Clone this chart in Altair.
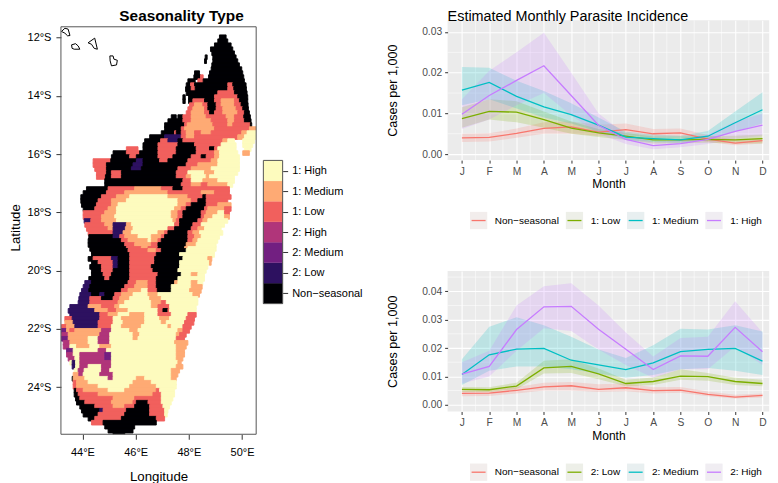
import altair as alt
import pandas as pd

FONT = "Liberation Sans"
MONTHS = ["J", "F", "M", "A", "M", "J", "J", "A", "S", "O", "N", "D"]
COLORS = ["#F8766D", "#7CAE00", "#00BFC4", "#C77CFF"]

NON = [.0040, .0041, .0051, .0063, .0067, .0054, .0060, .0050, .0052, .0037, .0027, .0033]
NON_LO = [.0030, .0031, .0040, .0050, .0050, .0045, .0048, .0040, .0042, .0030, .0022, .0026]
NON_HI = [.0050, .0051, .0063, .0078, .0080, .0072, .0075, .0062, .0063, .0047, .0035, .0040]

T_LOW = [.0087, .0105, .0103, .0085, .0064, .0052, .0044, .0035, .0035, .0036, .0035, .0038]
T_LOW_LO = [.0065, .0085, .0078, .0065, .0050, .0042, .0035, .0026, .0027, .0028, .0026, .0026]
T_LOW_HI = [.0115, .0135, .0130, .0105, .0080, .0062, .0052, .0043, .0043, .0044, .0045, .0048]
T_MED = [.0157, .0176, .0142, .0116, .0097, .0071, .0042, .0038, .0035, .0044, .0077, .0109]
T_MED_LO = [.0120, .0135, .0112, .0090, .0075, .0055, .0035, .0030, .0028, .0035, .0055, .0075]
T_MED_HI = [.0214, .0212, .0180, .0155, .0125, .0090, .0055, .0048, .0045, .0057, .0105, .0152]
T_HIGH = [.0098, .0144, .0181, .0217, .0144, .0071, .0036, .0021, .0026, .0036, .0056, .0071]
T_HIGH_LO = [.0062, .0085, .0120, .0150, .0095, .0050, .0025, .0012, .0017, .0025, .0038, .0045]
T_HIGH_HI = [.0135, .0205, .0250, .0298, .0200, .0100, .0048, .0030, .0035, .0048, .0080, .0100]

B_LOW = [.0054, .0053, .0066, .0130, .0135, .0109, .0075, .0082, .0101, .0099, .0082, .0075]
B_LOW_LO = [.0045, .0045, .0055, .0110, .0112, .0090, .0065, .0070, .0088, .0085, .0070, .0065]
B_LOW_HI = [.0063, .0062, .0078, .0155, .0160, .0128, .0088, .0096, .0125, .0112, .0095, .0088]
B_MED = [.0107, .0176, .0196, .0199, .0157, .0141, .0124, .0148, .0187, .0195, .0199, .0154]
B_MED_LO = [.0070, .0120, .0135, .0135, .0125, .0110, .0095, .0105, .0125, .0130, .0120, .0105]
B_MED_HI = [.0160, .0275, .0308, .0280, .0240, .0195, .0165, .0210, .0268, .0265, .0280, .0258]
B_HIGH = [.0108, .0135, .0265, .0345, .0347, .0266, .0196, .0124, .0172, .0171, .0273, .0187]
B_HIGH_LO = [.0075, .0100, .0190, .0270, .0260, .0195, .0140, .0095, .0125, .0125, .0205, .0140]
B_HIGH_HI = [.0150, .0190, .0350, .0418, .0428, .0350, .0255, .0170, .0235, .0240, .0365, .0255]

SEASON_LABELS = ["Non\u2212seasonal", "2: Low", "2: Medium", "2: High", "1: Low", "1: Medium", "1: High"]
SEASON_CODES = ["N", "a", "b", "c", "L", "M", "H"]
SEASON_COLORS = ["#000004", "#2D1160", "#721F81", "#B0357A", "#F1605D", "#FEAA74", "#FDFBBE"]

# Digitised map: each row runs west to east as "start code end code end ..."
# in units of 1/80 degree longitude; "." is sea.
ROWS_NORTH = [
    "655 N 675", "650 N 680", "640 N 690", "628 N 695", "632 N 700",
    "612 N 618 . 635 N 705", "610 N 616 . 635 N 710", "632 N 715", "630 N 722",
    "580 N 595 . 625 N 725", "578 N 598 L 606 . 622 N 728", "560 N 582 . 590 L 606 N 730",
    "555 N 568 L 580 N 680 L 695 N 735", "553 N 570 L 582 N 680 L 698 N 736",
    "555 N 650 L 700 N 738", "545 N 552 . 562 N 640 L 710 N 740",
    "545 N 552 . 562 N 575 L 610 N 640 L 660 M 700 L 715 N 740",
    "565 L 580 M 605 L 620 N 645 L 660 M 700 L 720 N 741",
    "560 L 575 M 610 L 620 N 645 L 665 M 705 L 725 N 742",
    "555 L 570 M 610 L 625 N 640 L 665 M 710 L 730 N 745",
    "510 N 525 . 530 N 545 L 570 M 615 L 675 M 700 L 728 N 748",
    "500 N 545 L 570 M 630 L 680 M 700 L 730 N 750",
    "490 N 550 L 558 M 635 L 680 M 695 L 748 N 752",
    "490 N 540 L 550 M 640 L 745 M 765",
    "480 N 520 L 525 N 540 L 555 M 580 L 600 M 630 L 722 M 738 H 765",
    "445 N 490 a 540 L 555 M 580 L 710 M 730 H 765",
    "430 N 478 L 500 a 530 N 545 L 665 M 680 H 700 . 725 H 760",
    "425 N 470 L 530 N 580 L 660 H 705 . 725 H 755",
    "375 L 410 . 425 N 470 L 525 N 585 L 625 N 640 L 650 H 705 . 730 H 750",
    "335 N 375 L 415 N 470 L 525 N 585 L 640 M 655 H 710 . 725 M 745",
    "330 N 385 L 405 N 470 L 515 N 570 L 600 N 615 L 640 M 655 H 715",
    "275 L 328 N 405 a 425 N 475 L 500 N 560 L 630 M 650 H 715",
    "275 L 315 N 395 a 425 N 555 L 590 M 650 H 715",
    "280 L 315 N 390 a 420 N 530 L 570 M 630 H 715",
    "285 L 315 N 330 L 360 N 525 L 560 H 610 M 640 H 710",
    "285 L 312 N 330 L 360 N 525 L 555 M 570 H 615 M 625 H 700",
    "310 N 545 L 570 H 605 M 650 H 700",
    "310 N 540 L 570 M 600 L 620 M 680 H 695",
    "255 N 320 L 400 M 480 L 515 N 545 L 685",
    "245 N 315 L 370 M 500 L 600 M 640 L 685",
    "238 N 300 L 345 M 385 H 500 M 560 L 605 N 615 L 690",
    "238 N 290 L 330 M 375 H 530 M 570 L 590 N 615 L 680",
    "240 N 285 L 330 M 350 H 530 M 555 L 570 N 615 L 650 M 690",
    "245 N 280 L 320 M 345 H 520 M 540 L 555 N 610 L 620 M 670 L 690",
    "245 L 310 M 345 H 510 M 530 L 545 N 600 L 615 M 650 H 670 L 685",
    "245 L 300 M 340 H 510 M 530 L 545 N 600 L 610 M 635 H 670 M 685",
    "248 a 268 L 300 M 345 H 515 M 525 L 535 N 590 L 605 M 620 H 680",
    "250 L 310 M 335 a 375 M 390 H 520 L 535 N 575 L 600 H 670",
    "255 L 320 M 335 a 372 M 395 H 500 L 520 N 570 L 590 M 610 H 660",
    "260 L 335 a 365 M 390 H 470 M 490 L 500 N 560 L 575 M 595 H 665",
    "262 N 335 a 355 L 370 M 410 H 450 M 480 L 490 N 560 L 580 M 600 H 655",
    "260 N 360 L 380 M 440 H 450 M 470 L 480 N 560 L 575 M 590 H 650",
    "260 N 370 L 400 M 450 L 470 N 555 M 585 H 645",
    "265 N 375 L 420 M 440 L 470 N 550 M 560 H 645",
]
ROWS_SOUTH = [
    "270 N 380 L 440 M 465 L 480 N 555 H 640",
    "270 N 385 L 465 N 535 H 640",
    "260 N 275 L 330 a 350 N 385 L 460 N 545 H 620 M 632",
    "270 N 290 L 335 a 350 N 385 L 460 N 535 H 625 M 630",
    "265 N 300 L 335 a 350 N 385 L 450 N 535 H 620",
    "270 N 300 L 335 N 385 L 455 N 530 H 615",
    "270 N 305 L 330 N 385 L 470 N 540 H 570 M 590 H 610",
    "262 N 310 L 325 N 385 L 465 N 530 H 610",
    "250 a 270 N 380 L 405 M 440 L 465 N 520 M 530 H 570 M 590 H 605",
    "245 a 265 N 370 L 400 M 440 L 465 N 510 H 570 M 603",
    "240 a 262 N 360 L 380 M 420 H 440 L 468 N 510 H 565 M 600",
    "235 a 270 N 295 a 310 N 340 L 360 M 395 H 440 M 470 H 575 M 595",
    "232 a 265 L 300 N 335 L 355 M 385 H 445 M 480 H 590",
    "230 a 265 L 350 M 370 H 450 M 480 L 495 H 590",
    "205 a 260 M 300 L 340 M 355 H 450 M 470 L 505 H 585",
    "200 a 280 M 320 L 345 M 380 H 470 L 485 N 500 L 505 H 585",
    "205 a 295 L 320 M 350 H 385 M 430 H 470 L 510 H 560 L 585",
    "190 L 212 a 295 L 335 H 360 M 430 H 475 M 505 H 555 L 580",
    "190 M 215 a 290 L 335 H 365 M 430 H 480 M 495 H 550 L 578",
    "180 L 195 M 220 a 290 L 330 H 360 M 420 H 500 M 510 H 545 L 570",
    "180 b 195 M 205 L 220 M 300 c 330 H 385 M 410 H 530 M 545 L 565",
    "180 c 200 M 295 c 325 H 395 M 415 H 525 M 535 L 555",
    "180 b 200 M 260 H 290 c 325 H 395 M 410 H 525 L 550",
    "185 c 205 M 260 H 290 c 325 H 520 M 560",
    "185 c 205 H 225 M 265 H 295 M 330 H 525 M 555",
    "195 b 215 H 290 c 315 H 525 M 550",
    "195 c 215 H 235 c 310 b 330 H 525 M 550",
    "200 c 220 H 235 c 310 b 330 H 525 M 545",
    "205 H 212 a 222 H 235 c 330 H 530 M 540",
    "212 a 222 H 235 c 260 H 300 c 330 H 525 M 545",
    "218 H 230 c 248 H 300 c 325 H 510 M 535",
    "215 M 232 c 245 H 295 c 335 H 510 M 530",
    "212 N 215 M 250 H 320 c 335 H 405 M 430 H 510 M 525",
    "215 L 225 M 260 H 395 M 450 H 525",
    "215 L 225 M 290 H 385 M 465 H 525",
    "218 N 225 L 245 M 320 H 370 M 465 L 475 H 520",
    "218 N 230 L 290 M 455 L 480 H 520",
    "222 N 235 L 335 M 400 L 480 H 515",
    "225 N 250 L 330 M 395 L 405 N 440 L 480 H 510",
    "235 N 280 L 335 M 370 L 400 N 445 L 485 H 505",
    "240 N 295 a 305 L 375 N 445 L 490 H 500",
    "245 N 290 L 370 N 445 L 490 H 498",
    "260 N 280 L 360 N 465 L 490",
    "270 L 305 N 465",
    "310 N 400",
    "320 N 395",
    "335 N 370",
]
ISLAND_LON = [
    [43.21, 43.34, 43.46, 43.53, 43.44, 43.34, 43.21],
    [43.59, 43.74, 43.84, 43.90, 43.69, 43.61, 43.59],
    [44.21, 44.46, 44.56, 44.44, 44.34, 44.21],
    [45.03, 45.15, 45.18, 45.31, 45.28, 45.09, 45.04, 45.03],
]
ISLAND_LAT = [
    [-11.79, -11.68, -11.71, -11.93, -11.94, -11.85, -11.79],
    [-12.25, -12.21, -12.29, -12.40, -12.40, -12.37, -12.25],
    [-12.18, -12.02, -12.40, -12.37, -12.23, -12.18],
    [-12.63, -12.63, -12.74, -12.78, -12.94, -12.97, -12.80, -12.63],
]

LON_DOMAIN = [43.19, 50.53]
LAT_DOMAIN = [-25.62, -11.407]
FRAME_LAT = [-25.62, -11.63]


def to_lon(z):
    return 44 + (z - 243) / 80


def to_lat(z):
    return -12 - (z - 110) / 87.5


def parse_rows(rows, z0):
    out = []
    for i, row in enumerate(rows):
        t = row.split()
        for j in range(1, len(t), 2):
            if t[j] == ".":
                continue
            out.append({
                "lon": to_lon(float(t[j - 1])), "lon2": to_lon(float(t[j + 1])),
                "lat": to_lat(z0 + 12 * i), "lat2": to_lat(z0 + 12 * (i + 1) + 2),
                "code": t[j],
            })
    return out


cells = pd.DataFrame(parse_rows(ROWS_NORTH, 102) + parse_rows(ROWS_SOUTH, 744))
code_scale = alt.Scale(domain=SEASON_CODES, range=SEASON_COLORS)
x_map = alt.X("lon:Q", scale=alt.Scale(domain=LON_DOMAIN, nice=False), axis=alt.Axis(
    values=[44, 46, 48, 50], labelExpr="datum.value + '°E'", title="Longitude",
    grid=False, domain=False, labelFontSize=11, titleFontSize=13.3, tickColor="#333333",
    tickSize=5, labelColor="#000000", titleFontWeight="normal", labelPadding=7, titlePadding=12))
y_map = alt.Y("lat:Q", scale=alt.Scale(domain=LAT_DOMAIN, nice=False), axis=alt.Axis(
    values=[-12, -14, -16, -18, -20, -22, -24], labelExpr="abs(datum.value) + '°S'",
    title="Latitude", grid=False, domain=False, labelFontSize=11, titleFontSize=13.3,
    tickColor="#333333", tickSize=5, labelColor="#000000", titleFontWeight="normal",
    labelPadding=5, titlePadding=5))

raster = alt.Chart(cells).mark_rect(strokeWidth=0.9, clip=True).encode(
    x=x_map, x2="lon2:Q", y=y_map, y2="lat2:Q",
    fill=alt.Fill("code:N", scale=code_scale, legend=None),
    stroke=alt.Stroke("code:N", scale=code_scale, legend=None),
)
isl = pd.DataFrame([
    {"lon": a, "lat": b, "island": k, "ord": n}
    for k, (lo, la) in enumerate(zip(ISLAND_LON, ISLAND_LAT))
    for n, (a, b) in enumerate(zip(lo, la))
])
islands = alt.Chart(isl).mark_line(color="#000000", strokeWidth=1, clip=True).encode(
    x=x_map, y=y_map, detail="island:N", order="ord:Q")
frame = alt.Chart(pd.DataFrame({"lon": [LON_DOMAIN[0]], "lon2": [LON_DOMAIN[1]],
                                "lat": [FRAME_LAT[0]], "lat2": [FRAME_LAT[1]]})).mark_rect(
    fillOpacity=0, stroke="#555555", strokeWidth=1).encode(
    x=x_map, x2="lon2:Q", y=y_map, y2="lat2:Q")
map_panel = alt.layer(raster, islands, frame).properties(
    width=195.5, height=414.5,
    view=alt.ViewBackground(stroke=None),
    title=alt.TitleParams("Seasonality Type", fontSize=15.4, fontWeight="bold", font=FONT,
                          anchor="middle", frame="group", offset=-4.2, dx=23, color="#000000"),
)

# colour bar
bar = pd.DataFrame({"i": range(7), "i2": range(1, 8), "code": SEASON_CODES,
                    "x0": [0] * 7, "x1": [1] * 7})
label_js = "[" + ",".join(f"'{s}'" for s in SEASON_LABELS) + "][floor(datum.value)]"
x_bar = alt.X("x0:Q", scale=alt.Scale(domain=[0, 1], nice=False), axis=None)
y_bar = alt.Y("i:Q", scale=alt.Scale(domain=[-6.387, 13.85], nice=False), axis=alt.Axis(
    orient="right", values=[i + 0.5 for i in range(7)], labelExpr=label_js, title=None,
    grid=False, domain=False, tickSize=5, tickColor="#333333", labelFontSize=11,
    labelColor="#000000", labelPadding=4))
bar_rect = alt.Chart(bar).mark_rect(strokeWidth=0.3).encode(
    x=x_bar, x2="x1:Q", y=y_bar, y2="i2:Q",
    fill=alt.Fill("code:N", scale=code_scale, legend=None),
    stroke=alt.Stroke("code:N", scale=code_scale, legend=None))
bar_frame = alt.Chart(pd.DataFrame({"x0": [0], "x1": [1], "i": [0], "i2": [7]})).mark_rect(
    fillOpacity=0, stroke="#555555", strokeWidth=1).encode(
    x=x_bar, x2="x1:Q", y=y_bar, y2="i2:Q")
bar_panel = alt.layer(bar_rect, bar_frame).properties(
    width=19.3, height=414.5, view=alt.ViewBackground(stroke=None))

MONTH_JS = "[" + ",".join(f"'{m}'" for m in MONTHS) + "][datum.value-1]"
MONTH_NUM = list(range(1, 13))
MINOR_X = [m + 0.5 for m in range(1, 12)]
PANEL_W = 322
N0 = "Non\u2212seasonal"
top_names = [N0, "1: Low", "1: Medium", "1: High"]
bot_names = [N0, "2: Low", "2: Medium", "2: High"]
series_scale = alt.Scale(domain=top_names + bot_names[1:],
                         range=COLORS + COLORS[1:])
series_color = alt.Color("series:N", scale=series_scale, legend=None)


def panel(series, ydomain, ymajor, yminor, height, title=None):
    rows = []
    for name, mid, lo, hi in series:
        for m, a, b, c in zip(MONTH_NUM, mid, lo, hi):
            rows.append({"month": m, "series": name, "v": a, "lo": b, "hi": c})
    df = pd.DataFrame(rows)
    x = alt.X("month:Q", scale=alt.Scale(domain=[0.477, 12.246], nice=False), axis=alt.Axis(
        values=MONTH_NUM, labelExpr=MONTH_JS, title="Month", gridColor="#FFFFFF", gridWidth=1.07,
        domain=False, tickSize=3, tickColor="#333333", labelColor="#4D4D4D", labelFontSize=10.3,
        titleFontSize=12, titleColor="#000000", titleFontWeight="normal", labelPadding=3.5,
        titlePadding=2, labelFlush=False))
    yscale = alt.Scale(domain=ydomain, nice=False, zero=False)
    yaxis = alt.Axis(
        values=ymajor, format=".2f", title="Cases per 1,000", gridColor="#FFFFFF", gridWidth=1.07,
        domain=False, tickSize=3, tickColor="#333333", labelColor="#4D4D4D", labelFontSize=10.3,
        titleFontSize=12.6, titleColor="#000000", titleFontWeight="normal", labelPadding=3,
        titlePadding=22)
    y = alt.Y("v:Q", scale=yscale, axis=yaxis)
    minor_x = alt.Chart(pd.DataFrame({"month": MINOR_X})).mark_rule(
        color="#FFFFFF", strokeWidth=0.53).encode(x=x)
    minor_y = alt.Chart(pd.DataFrame({"v": yminor})).mark_rule(
        color="#FFFFFF", strokeWidth=0.53).encode(y=y)
    band = alt.Chart(df).mark_area(opacity=0.2).encode(
        x=x, y=alt.Y("lo:Q", scale=yscale, axis=yaxis), y2="hi:Q", color=series_color)
    line = alt.Chart(df).mark_line(strokeWidth=1.3).encode(x=x, y=y, color=series_color)
    props = dict(width=PANEL_W, height=height,
                 view=alt.ViewBackground(fill="#EBEBEB", stroke=None))
    if title:
        props["title"] = alt.TitleParams(title, fontSize=14.4, fontWeight="normal", font=FONT,
                                         anchor="start", frame="group", offset=-4.2, color="#000000")
    return alt.layer(minor_x, minor_y, band, line).properties(**props)


KEY_X = [31, 127, 188.3, 266.7]


def key_strip(names, height):
    df = pd.DataFrame({"series": names, "pos": KEY_X})
    x = alt.X("pos:Q", scale=None, axis=None)
    base = alt.Chart(df)
    bg = base.mark_square(size=299, color="#F2F2F2", opacity=1).encode(x=x, y=alt.value(60.5))
    tint = base.mark_square(size=299, opacity=0.04).encode(x=x, y=alt.value(60.5), color=series_color)
    dash = base.mark_rect(width=14, height=1.3).encode(x=x, y=alt.value(60.5), color=series_color)
    txt = base.mark_text(align="left", dx=16.3, fontSize=10, color="#000000").encode(
        x=x, y=alt.value(60.5), text="series:N")
    return alt.layer(bg, tint, dash, txt).properties(
        width=PANEL_W, height=height, view=alt.ViewBackground(stroke=None))


top = panel([
    (N0, NON, NON_LO, NON_HI), ("1: Low", T_LOW, T_LOW_LO, T_LOW_HI),
    ("1: Medium", T_MED, T_MED_LO, T_MED_HI), ("1: High", T_HIGH, T_HIGH_LO, T_HIGH_HI),
], [-0.00147, 0.03287], [0, .01, .02, .03], [.005, .015, .025], 140,
    "Estimated Monthly Parasite Incidence")
bottom = panel([
    (N0, NON, NON_LO, NON_HI), ("2: Low", B_LOW, B_LOW_LO, B_LOW_HI),
    ("2: Medium", B_MED, B_MED_LO, B_MED_HI), ("2: High", B_HIGH, B_HIGH_LO, B_HIGH_HI),
], [-0.00236, 0.04715], [0, .01, .02, .03, .04], [.005, .015, .025, .035, .045], 140.7)

right = alt.vconcat(top, key_strip(top_names, 110.2), bottom, key_strip(bot_names, 66),
                    spacing=0, bounds="flush")
left = alt.hconcat(map_panel, bar_panel, spacing=6.7, bounds="flush")
chart = alt.hconcat(left, right, spacing=23.2).properties(
    padding=0
).configure(font=FONT).configure_view(stroke=None)
chart.save("out.html", embed_options={"renderer": "svg", "actions": False})
